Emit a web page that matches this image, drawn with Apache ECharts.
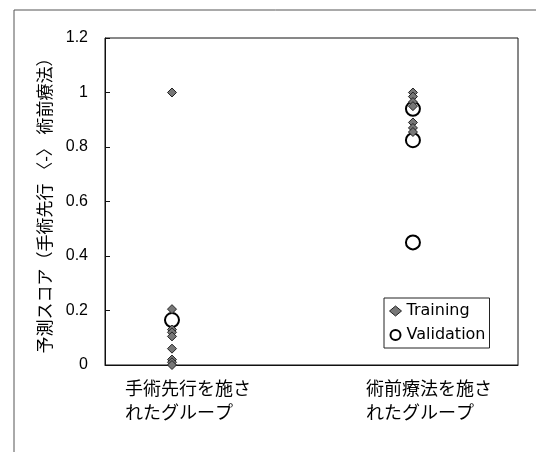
<!DOCTYPE html>
<html><head><meta charset="utf-8">
<script src="https://cdn.jsdelivr.net/npm/echarts@6/dist/echarts.min.js"></script>
<style>html,body{margin:0;padding:0;background:#fff}#c{width:536px;height:452px}</style>
</head><body><div id="c"></div>
<script>
var categories = ['手術先行を施さ\nれたグループ', '術前療法を施さ\nれたグループ'];
var categoryX = [1, 2];
var trainingLeft = [1.0, 0.205, 0.13, 0.12, 0.105, 0.06, 0.02, 0.01, 0.0];
var trainingRight = [1.0, 0.985, 0.965, 0.95, 0.89, 0.87, 0.855];
var validationLeft = [0.165];
var validationRight = [0.94, 0.825, 0.45];
var yTicks = [0, 0.2, 0.4, 0.6, 0.8, 1, 1.2];
var yTitle = '予測スコア（手術先行 〈-〉 術前療法）';

var FONT = "'Liberation Sans','Noto Sans CJK JP',sans-serif";
var LFONT = "'DejaVu Sans','Noto Sans CJK JP',sans-serif";
function pts(x, arr){ return arr.map(function(v){ return [x, v]; }); }
var training = pts(categoryX[0], trainingLeft).concat(pts(categoryX[1], trainingRight));
var validation = pts(categoryX[0], validationLeft).concat(pts(categoryX[1], validationRight));
var labelOffset = -0.195;

var chart = echarts.init(document.getElementById('c'), null, {renderer:'canvas'});
chart.setOption({
  animation:false,
  backgroundColor:'#fff',
  graphic:[{type:'rect', shape:{x:14, y:10, width:600, height:600}, style:{fill:'none', stroke:'#555', lineWidth:1}, silent:true}],
  grid:{left:105, top:38, width:413, height:327, show:true, borderColor:'#111', borderWidth:1, backgroundColor:'transparent'},
  legend:{
    orient:'vertical', left:384, top:298,
    backgroundColor:'#fff', borderColor:'#222', borderWidth:1, padding:[5,4,5,5],
    itemGap:8, itemWidth:12, itemHeight:10,
    textStyle:{fontFamily:LFONT, fontSize:16, color:'#000'},
    data:[{name:'Training', icon:'diamond', itemStyle:{color:'#777', borderColor:'#222', borderWidth:1}},
          {name:'Validation', icon:'circle', itemStyle:{color:'#fff', borderColor:'#000', borderWidth:2}}]
  },
  xAxis:{
    type:'value', min:0.722, max:2.436,
    splitLine:{show:false},
    axisLine:{show:true, lineStyle:{color:'#111'}},
    axisTick:{show:false},
    axisLabel:{
      show:true, customValues:categoryX.map(function(v){return v+labelOffset;}),
      align:'left', margin:13, fontFamily:FONT, fontSize:18, lineHeight:24, color:'#000',
      formatter:function(v){ var i = Math.round(v - labelOffset) - 1; return categories[i] || ''; }
    }
  },
  yAxis:{
    type:'value', min:0, max:1.2, interval:0.2,
    name:yTitle, nameLocation:'middle', nameRotate:90, nameGap:50,
    nameTextStyle:{fontFamily:FONT, fontSize:17, color:'#000'},
    splitLine:{show:false},
    axisLine:{show:true, lineStyle:{color:'#111'}},
    axisTick:{show:true, inside:true, length:5, lineStyle:{color:'#111'}},
    axisLabel:{margin:17, fontFamily:FONT, fontSize:16, color:'#000',
      formatter:function(v){ var t = yTicks.filter(function(k){return Math.abs(k-v)<1e-9;}); return t.length? String(+t[0].toFixed(1)) : ''; }}
  },
  series:[
    {name:'Training', type:'scatter', data:training, symbol:'diamond', symbolSize:9,
     itemStyle:{color:'#777', borderColor:'#222', borderWidth:1, opacity:1}, z:3},
    {name:'Validation', type:'scatter', data:validation, symbol:'circle', symbolSize:14,
     itemStyle:{color:'#fff', borderColor:'#000', borderWidth:2, opacity:1}, z:2}
  ]
});
</script></body></html>
